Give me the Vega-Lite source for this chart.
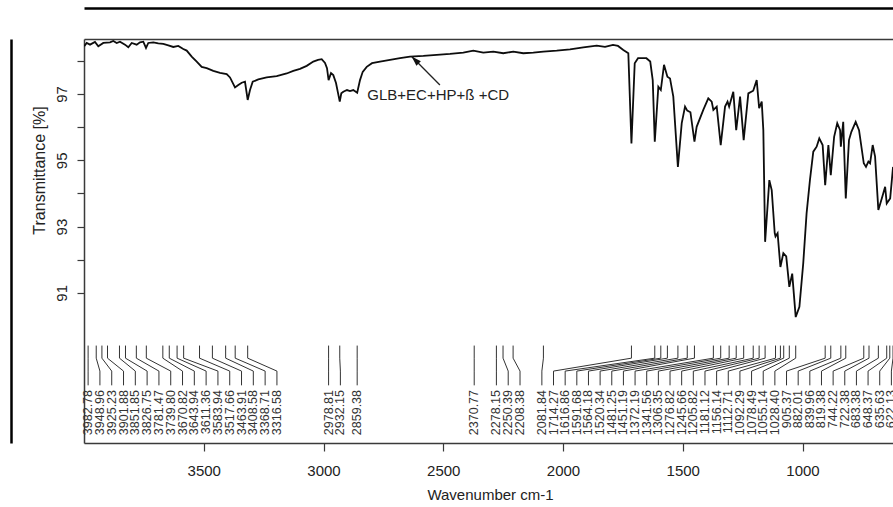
{
  "$schema": "https://vega.github.io/schema/vega-lite/v6.json",
  "width": 809,
  "height": 404,
  "autosize": {"type": "none"},
  "padding": {"left": 84, "top": 39, "right": 0, "bottom": 64},
  "background": "white",
  "config": {
    "view": {"stroke": null},
    "font": "Liberation Sans",
    "axis": {"grid": false}
  },
  "datasets": {
    "spectrum": [
      {"w": 3999, "t": 98.44}, {"w": 3988.7, "t": 98.54}, {"w": 3974.9, "t": 98.49}, {"w": 3954.1, "t": 98.57},
      {"w": 3940.3, "t": 98.44}, {"w": 3919.4, "t": 98.54}, {"w": 3891.4, "t": 98.56}, {"w": 3877.7, "t": 98.6},
      {"w": 3863.5, "t": 98.54}, {"w": 3849.7, "t": 98.58}, {"w": 3828.8, "t": 98.49}, {"w": 3815, "t": 98.41},
      {"w": 3800.8, "t": 98.54}, {"w": 3780, "t": 98.49}, {"w": 3766.2, "t": 98.56}, {"w": 3752.4, "t": 98.58},
      {"w": 3741.1, "t": 98.39}, {"w": 3731.5, "t": 98.54}, {"w": 3710.6, "t": 98.56}, {"w": 3689.8, "t": 98.53},
      {"w": 3668.9, "t": 98.51}, {"w": 3648, "t": 98.47}, {"w": 3627.1, "t": 98.42}, {"w": 3606.3, "t": 98.45},
      {"w": 3585.4, "t": 98.36}, {"w": 3571.2, "t": 98.31}, {"w": 3550.3, "t": 98.13}, {"w": 3529.4, "t": 97.98},
      {"w": 3508.6, "t": 97.82}, {"w": 3487.7, "t": 97.78}, {"w": 3460.1, "t": 97.7}, {"w": 3432.1, "t": 97.64},
      {"w": 3404.2, "t": 97.6}, {"w": 3390.4, "t": 97.5}, {"w": 3369.5, "t": 97.2}, {"w": 3355.7, "t": 97.27},
      {"w": 3341.5, "t": 97.34}, {"w": 3327.8, "t": 97.37}, {"w": 3316.58, "t": 96.82}, {"w": 3306.9, "t": 97.12},
      {"w": 3295.6, "t": 97.37}, {"w": 3272.2, "t": 97.44}, {"w": 3237.2, "t": 97.5}, {"w": 3195.4, "t": 97.54},
      {"w": 3153.7, "t": 97.62}, {"w": 3126.1, "t": 97.7}, {"w": 3098.1, "t": 97.76}, {"w": 3070.1, "t": 97.85},
      {"w": 3042.6, "t": 97.98}, {"w": 3022.9, "t": 98.03}, {"w": 3007.5, "t": 98.05}, {"w": 2993.7, "t": 97.94},
      {"w": 2985.4, "t": 97.78}, {"w": 2978.81, "t": 97.42}, {"w": 2968.7, "t": 97.63}, {"w": 2959.1, "t": 97.57},
      {"w": 2947.8, "t": 97.33}, {"w": 2932.15, "t": 96.77}, {"w": 2925.7, "t": 97.02}, {"w": 2917.3, "t": 97.07},
      {"w": 2901.9, "t": 97.12}, {"w": 2889.4, "t": 97.09}, {"w": 2875.6, "t": 97.12}, {"w": 2859.38, "t": 97.04},
      {"w": 2847.6, "t": 97.42}, {"w": 2836.3, "t": 97.67}, {"w": 2819.6, "t": 97.82}, {"w": 2797.5, "t": 97.93},
      {"w": 2764.1, "t": 97.98}, {"w": 2722.3, "t": 98.03}, {"w": 2680.6, "t": 98.08}, {"w": 2638.8, "t": 98.13},
      {"w": 2583.3, "t": 98.15}, {"w": 2527.3, "t": 98.18}, {"w": 2471.8, "t": 98.21}, {"w": 2416.3, "t": 98.25},
      {"w": 2374.5, "t": 98.31}, {"w": 2332.8, "t": 98.25}, {"w": 2291, "t": 98.28}, {"w": 2249.3, "t": 98.23},
      {"w": 2207.5, "t": 98.28}, {"w": 2165.8, "t": 98.23}, {"w": 2124, "t": 98.25}, {"w": 2082.2, "t": 98.28},
      {"w": 2026.3, "t": 98.31}, {"w": 1970.7, "t": 98.35}, {"w": 1915.2, "t": 98.41}, {"w": 1859.3, "t": 98.46},
      {"w": 1824.6, "t": 98.42}, {"w": 1791.2, "t": 98.48}, {"w": 1770.4, "t": 98.45}, {"w": 1748.2, "t": 98.33},
      {"w": 1727.3, "t": 98.23}, {"w": 1714.27, "t": 95.51}, {"w": 1700.6, "t": 97.93}, {"w": 1686.8, "t": 98.08},
      {"w": 1651.8, "t": 98.08}, {"w": 1635.8, "t": 97.98}, {"w": 1625.4, "t": 97.42}, {"w": 1616.86, "t": 95.56},
      {"w": 1602, "t": 97.22}, {"w": 1591.68, "t": 97.12}, {"w": 1578.3, "t": 97.88}, {"w": 1564.18, "t": 97.52},
      {"w": 1553.2, "t": 97.47}, {"w": 1539.5, "t": 96.92}, {"w": 1520.34, "t": 94.8}, {"w": 1504.3, "t": 96.12},
      {"w": 1490.5, "t": 96.62}, {"w": 1481.25, "t": 96.5}, {"w": 1468, "t": 96.45}, {"w": 1451.19, "t": 95.56},
      {"w": 1442, "t": 96.01}, {"w": 1414.3, "t": 96.52}, {"w": 1393.4, "t": 96.87}, {"w": 1379.2, "t": 96.77},
      {"w": 1372.19, "t": 96.52}, {"w": 1358.2, "t": 96.62}, {"w": 1341.56, "t": 95.46}, {"w": 1323.4, "t": 96.62},
      {"w": 1313, "t": 96.77}, {"w": 1306.35, "t": 96.62}, {"w": 1289, "t": 97.07}, {"w": 1276.82, "t": 95.91},
      {"w": 1260.7, "t": 96.92}, {"w": 1245.66, "t": 95.61}, {"w": 1226.2, "t": 97.02}, {"w": 1205.82, "t": 97.1},
      {"w": 1191.3, "t": 97.42}, {"w": 1181.12, "t": 96.57}, {"w": 1170.3, "t": 96.77}, {"w": 1163.6, "t": 95.91},
      {"w": 1156.14, "t": 92.54}, {"w": 1138.6, "t": 94.4}, {"w": 1128.6, "t": 94.1}, {"w": 1116, "t": 92.8},
      {"w": 1112.71, "t": 92.7}, {"w": 1104, "t": 92.8}, {"w": 1092.29, "t": 91.78}, {"w": 1080, "t": 92.2},
      {"w": 1068, "t": 92.1}, {"w": 1055.14, "t": 91.18}, {"w": 1043, "t": 91.58}, {"w": 1028.4, "t": 90.27},
      {"w": 1013, "t": 90.58}, {"w": 997, "t": 91.89}, {"w": 983, "t": 93.4}, {"w": 969, "t": 94.4},
      {"w": 955, "t": 95.26}, {"w": 941, "t": 95.41}, {"w": 930, "t": 95.66}, {"w": 916, "t": 95.46},
      {"w": 905.37, "t": 94.25}, {"w": 892, "t": 95.46}, {"w": 882.01, "t": 94.55}, {"w": 868, "t": 95.71},
      {"w": 855, "t": 96.12}, {"w": 843, "t": 95.91}, {"w": 839.96, "t": 95.41}, {"w": 830, "t": 96.16},
      {"w": 819.38, "t": 93.85}, {"w": 806, "t": 95.61}, {"w": 796, "t": 95.86}, {"w": 778, "t": 96.16},
      {"w": 764, "t": 95.91}, {"w": 744.22, "t": 94.91}, {"w": 735, "t": 94.8}, {"w": 725, "t": 94.96},
      {"w": 718, "t": 94.91}, {"w": 707, "t": 95.46}, {"w": 697, "t": 95.11}, {"w": 683.38, "t": 93.5},
      {"w": 669, "t": 93.85}, {"w": 655, "t": 94.2}, {"w": 648.37, "t": 93.7}, {"w": 634, "t": 93.85},
      {"w": 622, "t": 94.8}
    ],
    "peaks": [
      {"wn": 3982.78, "pos": 3982.78}, {"wn": 3948.96, "pos": 3933.53}, {"wn": 3925.23, "pos": 3884.26},
      {"wn": 3901.88, "pos": 3834.99}, {"wn": 3851.85, "pos": 3785.72}, {"wn": 3826.75, "pos": 3736.45},
      {"wn": 3781.47, "pos": 3687.18}, {"wn": 3739.8, "pos": 3637.91}, {"wn": 3670.82, "pos": 3588.64},
      {"wn": 3643.94, "pos": 3539.37}, {"wn": 3611.36, "pos": 3490.1}, {"wn": 3583.94, "pos": 3440.83},
      {"wn": 3517.66, "pos": 3391.56}, {"wn": 3463.91, "pos": 3342.29}, {"wn": 3408.58, "pos": 3293.02},
      {"wn": 3368.71, "pos": 3243.75}, {"wn": 3316.58, "pos": 3194.48},
      {"wn": 2978.81, "pos": 2978.81}, {"wn": 2932.15, "pos": 2929.5}, {"wn": 2859.38, "pos": 2859.38},
      {"wn": 2370.77, "pos": 2370.77}, {"wn": 2278.15, "pos": 2278.15}, {"wn": 2250.39, "pos": 2228.8},
      {"wn": 2208.38, "pos": 2179.5}, {"wn": 2081.84, "pos": 2088.29},
      {"wn": 1714.27, "pos": 2039.65}, {"wn": 1616.86, "pos": 1991.01}, {"wn": 1591.68, "pos": 1942.36},
      {"wn": 1564.18, "pos": 1893.72}, {"wn": 1520.34, "pos": 1845.08}, {"wn": 1481.25, "pos": 1796.43},
      {"wn": 1451.19, "pos": 1747.79}, {"wn": 1372.19, "pos": 1699.14}, {"wn": 1341.56, "pos": 1650.5},
      {"wn": 1306.35, "pos": 1601.85}, {"wn": 1276.82, "pos": 1553.21}, {"wn": 1245.66, "pos": 1504.57},
      {"wn": 1205.82, "pos": 1455.92}, {"wn": 1181.12, "pos": 1407.28}, {"wn": 1156.14, "pos": 1358.63},
      {"wn": 1112.71, "pos": 1309.99}, {"wn": 1092.29, "pos": 1261.35}, {"wn": 1078.49, "pos": 1212.7},
      {"wn": 1055.14, "pos": 1164.06}, {"wn": 1028.4, "pos": 1115.41}, {"wn": 905.37, "pos": 1066.77},
      {"wn": 882.01, "pos": 1018.13}, {"wn": 839.96, "pos": 969.48}, {"wn": 819.38, "pos": 920.84},
      {"wn": 744.22, "pos": 872.19}, {"wn": 722.38, "pos": 823.55}, {"wn": 683.38, "pos": 774.91},
      {"wn": 648.37, "pos": 726.26}, {"wn": 635.63, "pos": 677.62}, {"wn": 622.13, "pos": 628.97}
    ]
  },
  "resolve": {"axis": {"x": "independent", "y": "independent"}},
  "layer": [
    {
      "data": {"name": "spectrum"},
      "mark": {"type": "line", "color": "#0d0d0d", "strokeWidth": 1.8, "clip": true},
      "encoding": {
        "x": {
          "field": "w", "type": "quantitative",
          "scale": {"domain": [622.2, 4000], "reverse": true, "nice": false, "zero": false},
          "axis": {
            "orient": "bottom", "values": [3500, 3000, 2500, 2000, 1500, 1000], "format": "d",
            "tickSize": 8, "tickWidth": 1.2, "tickColor": "#3a3a3a",
            "domainColor": "#3a3a3a", "domainWidth": 1.5,
            "labelFontSize": 15, "labelColor": "#222222", "labelPadding": 12, "labelFlush": false,
            "title": "Wavenumber cm-1", "titleFontSize": 15, "titleFontWeight": "normal", "titleColor": "#222222",
            "titleX": 406, "titleY": 56, "titleAlign": "center", "titleBaseline": "alphabetic"
          }
        },
        "y": {
          "field": "t", "type": "quantitative",
          "scale": {"domain": [86.47, 98.66], "nice": false, "zero": false},
          "axis": {
            "orient": "left", "values": [91, 92, 93, 94, 95, 96, 97, 98],
            "labelExpr": "datum.value % 2 === 1 ? datum.label : ''",
            "tickSize": 7, "tickWidth": 1.2, "tickColor": "#3a3a3a",
            "domainColor": "#3a3a3a", "domainWidth": 1.5,
            "labelFontSize": 15, "labelColor": "#222222", "labelAngle": 270,
            "labelAlign": "center", "labelBaseline": "bottom", "labelPadding": 8,
            "title": "Transmittance [%]", "titleFontSize": 16, "titleFontWeight": "normal", "titleColor": "#222222",
            "titleAngle": 270, "titleX": -45, "titleY": 131, "titleAlign": "center", "titleBaseline": "middle"
          }
        }
      }
    },
    {
      "data": {"name": "peaks"},
      "mark": {"type": "rule", "color": "#333333", "strokeWidth": 1},
      "encoding": {
        "x": {"field": "wn", "type": "quantitative", "axis": null},
        "y": {"datum": 89.41, "type": "quantitative", "axis": null},
        "y2": {"datum": 89.03}
      }
    },
    {
      "data": {"name": "peaks"},
      "mark": {"type": "rule", "color": "#333333", "strokeWidth": 1},
      "encoding": {
        "x": {"field": "wn", "type": "quantitative", "axis": null},
        "x2": {"field": "pos"},
        "y": {"datum": 89.03, "type": "quantitative", "axis": null},
        "y2": {"datum": 88.64}
      }
    },
    {
      "data": {"name": "peaks"},
      "mark": {"type": "rule", "color": "#333333", "strokeWidth": 1},
      "encoding": {
        "x": {"field": "pos", "type": "quantitative", "axis": null},
        "y": {"datum": 88.64, "type": "quantitative", "axis": null},
        "y2": {"datum": 88.21}
      }
    },
    {
      "data": {"name": "peaks"},
      "mark": {"type": "text", "angle": 270, "align": "right", "baseline": "middle", "fontSize": 12.5, "color": "#333333"},
      "encoding": {
        "x": {"field": "pos", "type": "quantitative", "axis": null},
        "y": {"datum": 88.07, "type": "quantitative", "axis": null},
        "text": {"field": "wn", "type": "quantitative", "format": ".2f"}
      }
    },
    {
      "data": {"values": [{}]},
      "mark": {"type": "text", "align": "left", "baseline": "alphabetic", "fontSize": 15, "color": "#222222"},
      "encoding": {
        "x": {
          "datum": 2817, "type": "quantitative",
          "axis": {"orient": "top", "ticks": false, "labels": false, "title": null, "domainColor": "#3a3a3a", "domainWidth": 1.5}
        },
        "y": {
          "datum": 96.82, "type": "quantitative",
          "axis": {"orient": "left", "offset": 73, "ticks": false, "labels": false, "title": null, "domainColor": "#000000", "domainWidth": 2.5}
        },
        "text": {"value": "GLB+EC+HP+ß +CD"}
      }
    },
    {
      "data": {"values": [{}]},
      "mark": {"type": "rule", "color": "#222222", "strokeWidth": 1.3},
      "encoding": {
        "x": {"datum": 2514, "type": "quantitative", "axis": null},
        "x2": {"datum": 2632},
        "y": {"datum": 97.27, "type": "quantitative", "axis": null},
        "y2": {"datum": 98.13}
      }
    },
    {
      "data": {"values": [{}]},
      "mark": {"type": "point", "filled": true, "shape": "M0,0L-0.7,2.2L0.7,2.2Z", "size": 81, "angle": -45, "color": "#111111", "opacity": 1},
      "encoding": {
        "x": {
          "datum": 2632, "type": "quantitative",
          "axis": {"orient": "top", "offset": 31, "ticks": false, "labels": false, "title": null, "domainColor": "#000000", "domainWidth": 2.5}
        },
        "y": {"datum": 98.13, "type": "quantitative", "axis": null}
      }
    }
  ]
}
